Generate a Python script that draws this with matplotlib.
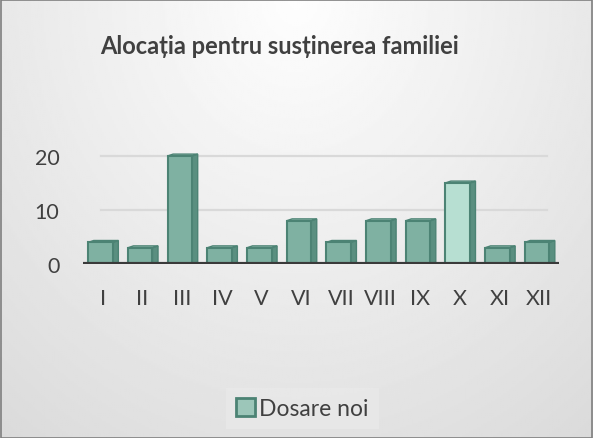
import numpy as np
import matplotlib.pyplot as plt
from matplotlib.patches import Polygon, Patch

months = ["I", "II", "III", "IV", "V", "VI", "VII", "VIII", "IX", "X", "XI", "XII"]
dosare_noi = [4, 3, 20, 3, 3, 8, 4, 8, 8, 15, 3, 4]
y_ticks = [0, 10, 20]
title = "Alocația pentru susținerea familiei"
series_name = "Dosare noi"

plt.rcParams["font.family"] = ["Lato", "DejaVu Sans"]
face = "#7fb1a2"
edge = "#4c8374"
side = "#5a8f80"
text_col = "#404040"

fig = plt.figure(figsize=(5.93, 4.39), dpi=100)

# background gradient (light at top centre, greyer to the edges and bottom)
bg = fig.add_axes([0, 0, 1, 1])
gx, gy = np.meshgrid(np.linspace(-1, 1, 300), np.linspace(0, 1, 220))
shade = 0.995 - 0.11 * np.sqrt(0.6 * gx ** 2 + 1.0 * gy ** 2)
bg.imshow(np.clip(shade, 0, 1), cmap="gray", vmin=0, vmax=1, aspect="auto",
          extent=[0, 1, 0, 1], origin="upper")
bg.set_xlim(0, 1)
bg.set_ylim(0, 1)
bg.axis("off")
bg.add_patch(plt.Rectangle((0.001, 0.001), 0.997, 0.996, fill=False,
                           edgecolor="#7f7f7f", linewidth=1.2))

ax = fig.add_axes([0.14, 0.3964, 0.803, 0.2706])
ax.set_facecolor("none")
x = np.arange(len(months))
w = 0.62
off = -0.06
dx, dy = 0.14, 0.35
for xi, v in zip(x, dosare_noi):
    left = xi + off - w / 2
    right = xi + off + w / 2
    # side and top faces for a simple 3D look
    ax.add_patch(Polygon([(right, 0), (right + dx, dy), (right + dx, v + dy), (right, v)],
                         closed=True, facecolor=side, edgecolor=edge, linewidth=1, zorder=3))
    ax.add_patch(Polygon([(left, v), (left + dx, v + dy), (right + dx, v + dy), (right, v)],
                         closed=True, facecolor="#9cc6b9", edgecolor=edge, linewidth=1, zorder=3))
cols = [face] * len(months)
cols[9] = "#b7dfd2"
ax.bar(x + off, dosare_noi, width=w, color=cols, edgecolor=edge, linewidth=1.5, zorder=4)

ax.set_xlim(-0.5, 11.5)
ax.set_ylim(0, 22)
ax.set_yticks(y_ticks)
ax.set_xticks(x)
ax.set_xticklabels(months)
for t in y_ticks[1:]:
    ax.plot([-0.05, 11.2], [t, t], color="#d9d9d9", linewidth=1.6, zorder=1)
ax.axhline(0, color="#3a3a3a", linewidth=3, zorder=5)
for s in ax.spines.values():
    s.set_visible(False)
ax.tick_params(axis="both", length=0, labelsize=15.5, colors=text_col)
ax.tick_params(axis="x", pad=17)
ax.tick_params(axis="y", pad=17)

fig.text(0.169, 0.893, title, fontsize=17, fontweight="bold", color=text_col,
         ha="left", va="center")

leg = fig.legend(handles=[Patch(facecolor="#9cc6b9", edgecolor=edge, linewidth=2, label=series_name)],
                 loc="center", bbox_to_anchor=(0.51, 0.067), fontsize=16.5, frameon=True,
                 handlelength=0.8, handleheight=0.8, handletextpad=0.2, borderpad=0.45,
                 fancybox=False, labelcolor=text_col)
leg.get_frame().set_facecolor("#e9e9e9")
leg.get_frame().set_edgecolor("none")

fig.savefig("out.png", dpi=100)
